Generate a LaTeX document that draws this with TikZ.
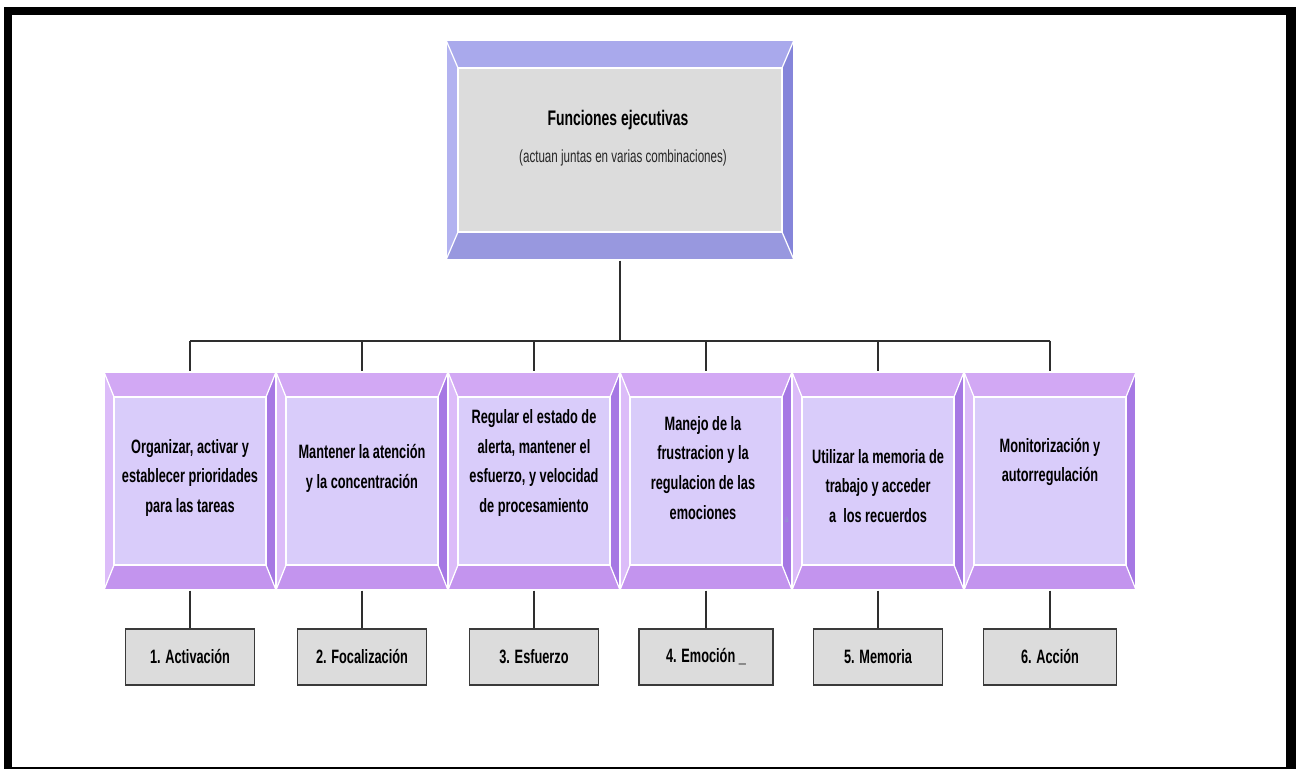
\documentclass[tikz,border=0pt]{standalone}
\usepackage{fontspec}
\setmainfont{Liberation Sans}[FakeStretch=0.66]
\usepackage{tikz}
\usetikzlibrary{
    positioning,
    calc
}
\definecolor{fegray}{HTML}{DCDCDC}
\definecolor{fedark}{HTML}{3A3A3A}
\definecolor{feline}{HTML}{2E2E2E}
\definecolor{feheadtop}{HTML}{A9A9EC}
\definecolor{feheadleft}{HTML}{B2B2F0}
\definecolor{feheadright}{HTML}{8585DA}
\definecolor{feheadbottom}{HTML}{9898DF}
\definecolor{fetaskface}{HTML}{D9CCFA}
\definecolor{fetasktop}{HTML}{D2A8F4}
\definecolor{fetaskleft}{HTML}{DCBCF9}
\definecolor{fetaskright}{HTML}{A678E4}
\definecolor{fetaskbottom}{HTML}{C394EE}
\definecolor{festray}{HTML}{8FA3C8}

% bevelled frame: top, left, right, bottom colour, side width, top/bottom depth
\newcommand{\febevel}[6]{%
    \fill[#1] (path picture bounding box.north west) -- (path picture bounding box.north east)
        -- ([xshift=-#5,yshift=-#6]path picture bounding box.north east)
        -- ([xshift=#5,yshift=-#6]path picture bounding box.north west) -- cycle;
    \fill[#2] (path picture bounding box.north west) -- ([xshift=#5,yshift=-#6]path picture bounding box.north west)
        -- ([xshift=#5,yshift=#6]path picture bounding box.south west)
        -- (path picture bounding box.south west) -- cycle;
    \fill[#3] (path picture bounding box.north east) -- ([xshift=-#5,yshift=-#6]path picture bounding box.north east)
        -- ([xshift=-#5,yshift=#6]path picture bounding box.south east)
        -- (path picture bounding box.south east) -- cycle;
    \fill[#4] (path picture bounding box.south west) -- (path picture bounding box.south east)
        -- ([xshift=-#5,yshift=#6]path picture bounding box.south east)
        -- ([xshift=#5,yshift=#6]path picture bounding box.south west) -- cycle;
    \draw[white, line width=0.7pt] ([xshift=#5,yshift=-#6]path picture bounding box.north west)
        rectangle ([xshift=-#5,yshift=#6]path picture bounding box.south east);
    \draw[white, line width=0.7pt] (path picture bounding box.north west) -- ++(#5,-#6);
    \draw[white, line width=0.7pt] (path picture bounding box.north east) -- ++(-#5,-#6);
    \draw[white, line width=0.7pt] (path picture bounding box.south west) -- ++(#5,#6);
    \draw[white, line width=0.7pt] (path picture bounding box.south east) -- ++(-#5,#6);
}
\tikzset{
    % Main box
    headbox/.style={
        rectangle,
        fill=fegray,
        draw=white,
        line width=0.7pt,
        minimum width=6.96cm,
        minimum height=4.4cm,
        inner sep=0pt,
        path picture={\febevel{feheadtop}{feheadleft}{feheadright}{feheadbottom}{0.24cm}{0.56cm}}
    },
    % Function box
    taskbox/.style={
        rectangle,
        fill=fetaskface,
        draw=white,
        line width=0.7pt,
        minimum width=3.44cm,
        minimum height=4.36cm,
        inner sep=0pt,
        path picture={\febevel{fetasktop}{fetaskleft}{fetaskright}{fetaskbottom}{0.2cm}{0.5cm}}
    },
    % Text inside a function box
    tasktext/.style={
        font=\fontsize{11}{17}\selectfont\bfseries,
        align=center,
        inner sep=0pt
    },
    % Numbered label
    labelbox/.style={
        rectangle,
        fill=fegray,
        draw=fedark,
        line width=1.1pt,
        minimum width=2.58cm,
        minimum height=1.12cm,
        font=\fontsize{11}{13}\selectfont\bfseries,
        align=center,
        inner sep=2pt
    },
    % Tree line
    feconn/.style={
        draw=feline,
        line width=1.1pt
    }
}

\begin{document}
\begin{tikzpicture}

    \useasboundingbox (0,0) rectangle (25.92,15.38);

    % Black frame
    \fill[black] (0.08,0) rectangle (25.92,15.24);
    \fill[white] (0.24,0.04) rectangle (25.72,15.08);

    % Main box
    \node[headbox] (head) at (12.4, 12.38) {};
    \node[font=\fontsize{12}{14}\selectfont\bfseries, inner sep=0pt] (headtitle) at (12.36, 12.98) {Funciones ejecutivas};
    \node[font=\fontsize{10}{12}\selectfont, text=black!85, inner sep=0pt] (headsub) at (12.46, 12.22) {(actuan juntas en varias combinaciones)};

    % Function boxes
    \node[taskbox] (t1) at (3.8, 5.76) {};
    \node[taskbox] (t2) at (7.24, 5.76) {};
    \node[taskbox] (t3) at (10.68, 5.76) {};
    \node[taskbox] (t4) at (14.12, 5.76) {};
    \node[taskbox] (t5) at (17.56, 5.76) {};
    \node[taskbox] (t6) at (21.0, 5.76) {};

    % Function texts
    \node[tasktext] (x1) at ([yshift=0.06cm]t1.center) {Organizar, activar y\\establecer prioridades\\para las tareas};
    \node[tasktext] (x2) at ([yshift=0.26cm]t2.center) {Mantener la atención\\y la concentración};
    \node[tasktext] (x3) at ([yshift=0.36cm]t3.center) {Regular el estado de\\alerta, mantener el\\esfuerzo, y velocidad\\de procesamiento};
    \node[tasktext] (x4) at ([yshift=0.26cm,xshift=-0.06cm]t4.center) {Manejo de la\\frustracion y la\\regulacion de las\\emociones};
    \node[tasktext] (x5) at ([yshift=-0.1cm]t5.center) {Utilizar la memoria de\\trabajo y acceder\\a\ \ los recuerdos};
    \node[tasktext] (x6) at ([yshift=0.38cm]t6.center) {Monitorización y\\autorregulación};
    \node[font=\tiny, text=festray, inner sep=0pt] (stray) at ([xshift=-0.12cm,yshift=-0.78cm]t4.east) {a};

    % Numbered labels
    \node[labelbox, below=0.74cm of t1] (l1) {1. Activación};
    \node[labelbox, below=0.74cm of t2] (l2) {2. Focalización};
    \node[labelbox, below=0.74cm of t3] (l3) {3. Esfuerzo};
    \node[labelbox, below=0.74cm of t4, minimum width=2.68cm] (l4) {4. Emoción \_};
    \node[labelbox, below=0.74cm of t5] (l5) {5. Memoria};
    \node[labelbox, below=0.74cm of t6, minimum width=2.66cm] (l6) {6. Acción};

    % Tree lines
    \coordinate (bus) at ($(head.south)+(0,-1.6)$);
    \draw[feconn] (head.south) -- (bus);
    \draw[feconn] (t1.north |- bus) -- (t6.north |- bus);
    \draw[feconn] (t1.north |- bus) -- (t1.north);
    \draw[feconn] (t2.north |- bus) -- (t2.north);
    \draw[feconn] (t3.north |- bus) -- (t3.north);
    \draw[feconn] (t4.north |- bus) -- (t4.north);
    \draw[feconn] (t5.north |- bus) -- (t5.north);
    \draw[feconn] (t6.north |- bus) -- (t6.north);

    % Lines to labels
    \draw[feconn] (t1.south) -- (l1.north);
    \draw[feconn] (t2.south) -- (l2.north);
    \draw[feconn] (t3.south) -- (l3.north);
    \draw[feconn] (t4.south) -- (l4.north);
    \draw[feconn] (t5.south) -- (l5.north);
    \draw[feconn] (t6.south) -- (l6.north);

\end{tikzpicture}
\end{document}
